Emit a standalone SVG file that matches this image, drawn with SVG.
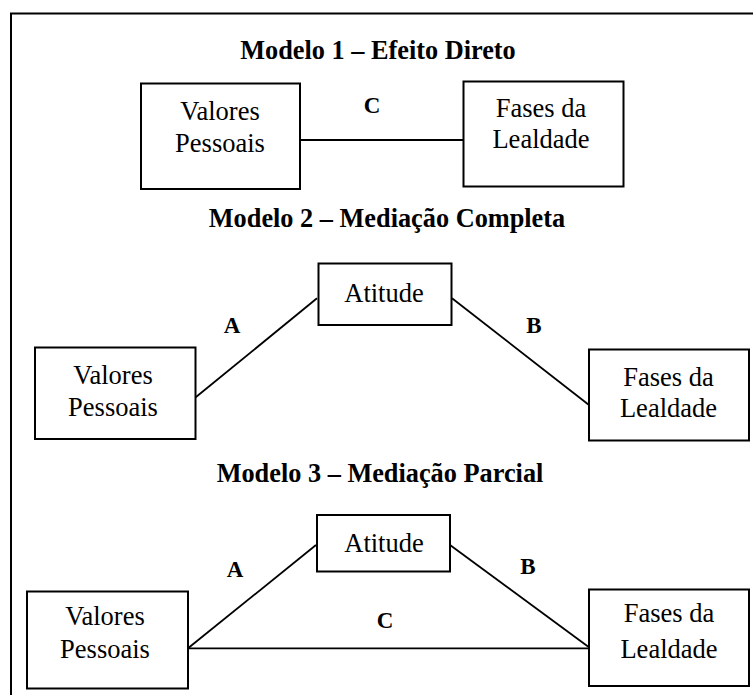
<svg xmlns="http://www.w3.org/2000/svg" width="753" height="695" viewBox="0 0 753 695" font-family="'Liberation Serif', 'Times New Roman', 'DejaVu Serif', serif">
<style>
.box{fill:#fff;stroke:#000;stroke-width:2}
.ln{stroke:#000;stroke-width:1.8;fill:none}
text{font-family:'Liberation Serif','Times New Roman','DejaVu Serif',serif;fill:#000;text-anchor:middle}
.t{font-size:26.5px}
.h{font-size:26.3px;font-weight:bold}
.l{font-size:23px;font-weight:bold}
</style>
<rect x="0" y="0" width="753" height="695" fill="#fff"/>
<rect x="11" y="13.5" width="800" height="800" fill="none" stroke="#000" stroke-width="2"/>
<text class="h" x="378" y="59">Modelo 1 – Efeito Direto</text>
<text class="h" x="387" y="227">Modelo 2 – Mediação Completa</text>
<text class="h" x="380" y="482">Modelo 3 – Mediação Parcial</text>
<g id="connectors">
<line class="ln" x1="300" y1="140" x2="463" y2="140"/>
<line class="ln" x1="195.7" y1="397.3" x2="317" y2="298.3"/>
<line class="ln" x1="452" y1="298.3" x2="589" y2="405"/>
<line class="ln" x1="188" y1="648.3" x2="316" y2="545"/>
<line class="ln" x1="450" y1="545" x2="589" y2="647.3"/>
<line class="ln" x1="188" y1="648.3" x2="589" y2="648.3"/>
<text class="l" x="372" y="113">C</text>
<text class="l" x="232" y="333">A</text>
<text class="l" x="534" y="333">B</text>
<text class="l" x="235" y="577">A</text>
<text class="l" x="528" y="574">B</text>
<text class="l" x="385" y="628">C</text>
</g>
<g id="m1-valores">
<rect class="box" x="141" y="83.5" width="159" height="105.5"/>
<text class="t" x="220" y="120">Valores</text>
<text class="t" x="220" y="151.5">Pessoais</text>
</g>
<g id="m1-fases">
<rect class="box" x="463.5" y="81.5" width="160" height="105"/>
<text class="t" x="541" y="116.5">Fases da</text>
<text class="t" x="541" y="148">Lealdade</text>
</g>
<g id="m2-atitude">
<rect class="box" x="318.5" y="263.5" width="133" height="61.5"/>
<text class="t" x="384" y="301.5">Atitude</text>
</g>
<g id="m2-valores">
<rect class="box" x="35" y="347.5" width="160.5" height="91.5"/>
<text class="t" x="113" y="384">Valores</text>
<text class="t" x="113" y="415.5">Pessoais</text>
</g>
<g id="m2-fases">
<rect class="box" x="589" y="349.5" width="160" height="91"/>
<text class="t" x="668.5" y="386">Fases da</text>
<text class="t" x="668.5" y="416.5">Lealdade</text>
</g>
<g id="m3-atitude">
<rect class="box" x="317" y="515" width="133" height="56.5"/>
<text class="t" x="384" y="551.5">Atitude</text>
</g>
<g id="m3-valores">
<rect class="box" x="27" y="591.5" width="161" height="97"/>
<text class="t" x="105" y="624.5">Valores</text>
<text class="t" x="105" y="657.5">Pessoais</text>
</g>
<g id="m3-fases">
<rect class="box" x="589" y="589.5" width="160" height="96.5"/>
<text class="t" x="669" y="621.5">Fases da</text>
<text class="t" x="669" y="658">Lealdade</text>
</g>
</svg>
